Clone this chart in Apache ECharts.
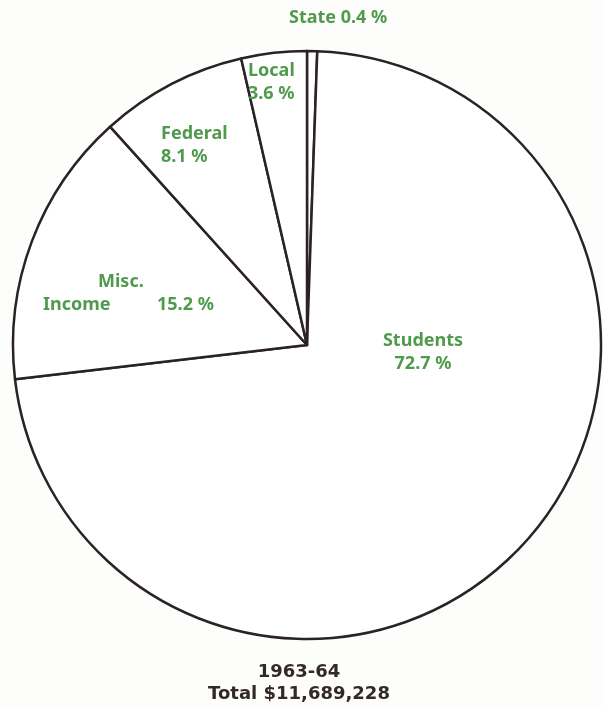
<!DOCTYPE html>
<html>
<head>
<meta charset="utf-8">
<script src="https://cdn.jsdelivr.net/npm/echarts@6/dist/echarts.min.js"></script>
<style>
  html, body { margin: 0; padding: 0; background: #fdfdfb; }
  #main { width: 603px; height: 707px; }
</style>
</head>
<body>
<div id="main"></div>
<script>
// income sources, 1963-64 (clockwise from 12 o'clock)
var sources = ['State', 'Students', 'Misc. Income', 'Federal', 'Local'];
var shares = [0.4, 72.7, 15.2, 8.1, 3.6];
var yearLabel = '1963-64';
var totalLabel = 'Total $11,689,228';

// where each label sits (left/top of text block)
var labelSpots = [
  { x: 289, y: 6, align: 'left' },
  { x: 423, y: 329, align: 'center' },
  { x: 43, y: 270, align: 'left' },
  { x: 161, y: 122, align: 'left' },
  { x: 248, y: 59, align: 'left' }
];

var green = '#4f9a4c';
var ink = '#2b2226';

function pct(v) {
  return v + ' %';
}

var chart = echarts.init(document.getElementById('main'));

var data = sources.map(function (name, i) {
  var item = { name: name, value: shares[i] };
  var text;
  if (name === 'State') {
    text = 'State ' + pct(shares[i]);
  } else if (name === 'Misc. Income') {
    text = '{m|Misc.}\n{n|Income}{p|' + pct(shares[i]) + '}';
  } else {
    text = name + '\n' + pct(shares[i]);
  }
  item.label = { formatter: text };
  return item;
});

var labelFont = { color: green, fontFamily: 'Noto Sans', fontWeight: 'bold', fontSize: 18, lineHeight: 23 };

var option = {
  backgroundColor: '#fdfdfb',
  animation: false,
  title: {
    text: yearLabel + '\n' + totalLabel,
    left: 294,
    top: 656,
    textAlign: 'center',
    textStyle: {
      fontFamily: 'DejaVu Sans',
      fontWeight: 'bold',
      fontSize: 18,
      lineHeight: 22,
      color: '#33282a',
      align: 'center'
    }
  },
  series: [{
    type: 'pie',
    center: [307, 345],
    radius: 294,
    startAngle: 90,
    clockwise: true,
    minAngle: 2,
    avoidLabelOverlap: false,
    silent: true,
    itemStyle: {
      color: '#ffffff',
      borderColor: ink,
      borderWidth: 2.5
    },
    label: Object.assign({
      show: true,
      position: 'inside',
      rich: {
        m: Object.assign({ padding: [0, 0, 0, 55] }, labelFont),
        n: Object.assign({ width: 114 }, labelFont),
        p: Object.assign({}, labelFont)
      }
    }, labelFont),
    labelLine: { show: false },
    labelLayout: function (params) {
      var s = labelSpots[params.dataIndex];
      return { x: s.x, y: s.y, align: s.align, verticalAlign: 'top' };
    },
    data: data
  }]
};

chart.setOption(option);
</script>
</body>
</html>
